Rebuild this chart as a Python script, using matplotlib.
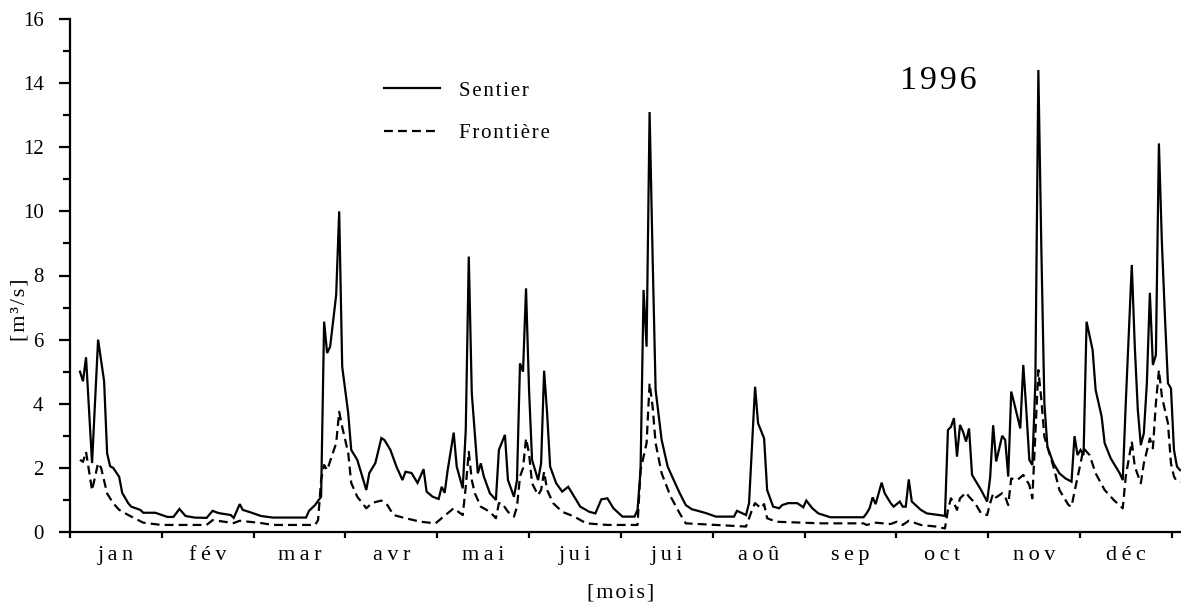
import numpy as np
import matplotlib
matplotlib.use("Agg")
import matplotlib.pyplot as plt
from matplotlib.ticker import FixedLocator, NullFormatter

plt.rcParams['font.family'] = ['Liberation Serif', 'DejaVu Serif']

# Daily discharge 1996 (day of year -> m3/s), turning points of each hydrograph
sentier_days = [1, 2, 3, 5, 7, 9, 10, 11, 12, 14, 15, 17, 18, 21, 22, 26, 30, 32, 34, 36,
                39, 43, 45, 47, 51, 52, 54, 55, 58, 61, 65, 76, 77, 79, 81, 82, 83, 84, 86, 87,
                88, 90, 91, 93, 96, 97, 99, 101, 102, 104, 106, 108, 109, 111, 113, 115, 116, 118, 120, 121,
                122, 123, 125, 126, 128, 129, 130, 131, 133, 134, 135, 137, 139, 140, 142, 143, 145, 146, 147, 148,
                149, 150, 151, 153, 154, 155, 156, 157, 159, 161, 163, 165, 167, 170, 172, 174, 176, 178, 181, 185,
                186, 187, 188, 189, 190, 191, 192, 194, 196, 198, 200, 202, 204, 206, 209, 212, 218, 219, 222, 223,
                225, 226, 228, 229, 231, 233, 234, 236, 239, 241, 242, 244, 246, 250, 261, 262, 263, 264, 265, 267,
                268, 270, 271, 273, 274, 275, 276, 277, 280, 282, 286, 288, 289, 290, 291, 292, 293, 294, 295, 296,
                297, 300, 302, 303, 304, 305, 307, 308, 309, 310, 311, 313, 314, 315, 316, 317, 318, 319, 320, 321,
                322, 324, 326, 328, 330, 331, 332, 333, 334, 335, 337, 338, 340, 341, 343, 346, 347, 348, 350, 351,
                352, 353, 354, 355, 356, 357, 358, 359, 360, 361, 362, 363, 364, 365, 366]
sentier_q = [5.0, 4.7, 5.45, 2.15, 6.0, 4.7, 2.45, 2.05, 2.0, 1.72, 1.22, 0.9, 0.79, 0.69, 0.6, 0.6, 0.47, 0.47, 0.72, 0.5,
             0.45, 0.44, 0.66, 0.59, 0.53, 0.44, 0.87, 0.69, 0.6, 0.5, 0.45, 0.45, 0.66, 0.84, 1.1, 6.56, 5.58, 5.78, 7.39, 10.0,
             5.16, 3.7, 2.56, 2.25, 1.31, 1.84, 2.15, 2.93, 2.87, 2.56, 2.04, 1.62, 1.88, 1.84, 1.53, 1.96, 1.26, 1.1, 1.03, 1.41,
             1.22, 1.93, 3.1, 2.04, 1.36, 3.18, 8.59, 4.33, 1.83, 2.14, 1.73, 1.21, 1.0, 2.56, 3.03, 1.62, 1.1, 1.62, 5.26, 5.0,
             7.6, 4.43, 2.25, 1.62, 2.14, 5.03, 3.7, 2.04, 1.52, 1.26, 1.41, 1.1, 0.79, 0.63, 0.58, 1.02, 1.05, 0.74, 0.48, 0.48,
             0.69, 1.93, 7.55, 5.78, 13.1, 8.59, 4.43, 2.87, 2.04, 1.62, 1.21, 0.84, 0.71, 0.66, 0.58, 0.48, 0.48, 0.66, 0.53, 0.9,
             4.53, 3.39, 2.92, 1.31, 0.79, 0.74, 0.84, 0.9, 0.9, 0.77, 0.98, 0.74, 0.58, 0.46, 0.46, 0.58, 0.74, 1.08, 0.87, 1.54,
             1.21, 0.9, 0.79, 0.95, 0.79, 0.79, 1.64, 0.95, 0.69, 0.58, 0.53, 0.5, 3.18, 3.28, 3.55, 2.35, 3.34, 3.13, 2.82, 3.23,
             1.78, 1.31, 0.95, 1.7, 3.33, 2.2, 3.0, 2.87, 1.73, 4.38, 4.01, 3.23, 5.21, 3.81, 2.25, 2.09, 4.64, 14.41, 8.8, 4.01,
             2.66, 2.14, 1.83, 1.67, 1.57, 2.99, 2.4, 2.56, 2.4, 6.56, 5.68, 4.43, 3.6, 2.77, 2.3, 1.83, 1.62, 4.01, 8.33, 5.78,
             3.81, 2.71, 3.08, 4.64, 7.46, 5.21, 5.52, 12.12, 9.0, 6.72, 4.64, 4.48, 2.56, 2.04, 1.93]

frontiere_days = [1, 2, 3, 5, 7, 8, 10, 12, 14, 17, 22, 28, 43, 45, 52, 54, 61, 65, 79, 80,
                  81, 82, 83, 86, 87, 88, 90, 91, 93, 96, 98, 101, 103, 105, 109, 114, 119, 121, 125, 128,
                  129, 130, 131, 132, 134, 137, 139, 140, 141, 143, 145, 146, 147, 148, 149, 150, 151, 153, 154, 155,
                  156, 158, 161, 165, 169, 176, 186, 187, 189, 190, 191, 192, 194, 197, 200, 202, 222, 224, 225, 227,
                  228, 229, 232, 247, 261, 262, 265, 270, 272, 274, 276, 280, 285, 288, 289, 290, 291, 292, 293, 295,
                  296, 298, 300, 302, 303, 304, 305, 307, 308, 309, 310, 312, 314, 316, 317, 318, 319, 320, 321, 324,
                  326, 329, 330, 331, 333, 334, 336, 338, 341, 344, 347, 348, 350, 351, 353, 354, 356, 357, 358, 359,
                  360, 362, 363, 364, 365, 366]
frontiere_q = [2.25, 2.19, 2.5, 1.3, 2.15, 2.0, 1.2, 0.9, 0.69, 0.53, 0.29, 0.22, 0.22, 0.37, 0.28, 0.35, 0.28, 0.22, 0.22, 0.37,
               1.62, 2.09, 1.93, 2.77, 3.75, 3.28, 2.46, 1.53, 1.1, 0.74, 0.91, 0.98, 0.84, 0.53, 0.43, 0.32, 0.27, 0.43, 0.74, 0.53,
               1.41, 2.5, 1.62, 1.21, 0.79, 0.63, 0.43, 0.9, 0.9, 0.63, 0.48, 0.79, 1.73, 1.99, 2.92, 2.45, 1.52, 1.15, 1.31, 1.88,
               1.31, 0.9, 0.63, 0.48, 0.27, 0.22, 0.22, 1.93, 2.77, 4.64, 3.91, 2.77, 1.83, 1.1, 0.58, 0.27, 0.17, 0.69, 0.9, 0.74,
               0.87, 0.43, 0.32, 0.27, 0.27, 0.22, 0.29, 0.25, 0.32, 0.22, 0.35, 0.22, 0.17, 0.11, 0.69, 1.05, 0.9, 0.69, 1.05, 1.23,
               1.1, 0.9, 0.58, 0.53, 0.9, 1.2, 1.08, 1.21, 1.1, 0.84, 1.67, 1.62, 1.78, 1.47, 1.05, 3.08, 5.05, 4.12, 2.97, 2.04,
               1.31, 0.84, 0.79, 1.26, 2.14, 2.61, 2.4, 1.83, 1.31, 1.0, 0.74, 1.73, 2.82, 2.04, 1.52, 2.14, 2.92, 2.61, 4.01, 5.05,
               4.22, 3.39, 2.14, 1.73, 1.57, 1.55]

month_labels = ['jan', 'fév', 'mar', 'avr', 'mai', 'jui', 'jui', 'aoû', 'sep', 'oct', 'nov', 'déc']
y_ticks = [0, 2, 4, 6, 8, 10, 12, 14, 16]


def spaced(text, sep='\u2009'):
    """Typeset a label with a little tracking between its letters."""
    return sep.join(text)


W, H = 1181, 612
fig = plt.figure(figsize=(W / 100, H / 100), dpi=100)
ax = fig.add_axes([70 / W, 1 - 532 / H, 1110 / W, 513 / H])

ax.plot(sentier_days, sentier_q, color='black', lw=1.6, solid_joinstyle='miter',
        label=spaced('Sentier', '\u200a'), clip_on=False)
ax.plot(frontiere_days, frontiere_q, color='black', lw=1.6, linestyle=(0, (4.0, 2.3)),
        label=spaced('Frontière', '\u200a'), clip_on=False)

# axis frame: only left and bottom
for s in ['top', 'right']:
    ax.spines[s].set_visible(False)
for s in ['left', 'bottom']:
    ax.spines[s].set_linewidth(1.6)

x0 = -2.32
month_len = 30.47
ax.set_xlim(x0, 366)
ax.set_ylim(0, 16)

bounds = x0 + month_len * np.arange(13)
mids = x0 + month_len * (np.arange(12) + 0.5)
ax.xaxis.set_major_locator(FixedLocator(bounds))
ax.xaxis.set_major_formatter(NullFormatter())
ax.xaxis.set_minor_locator(FixedLocator(mids))
ax.set_xticklabels([spaced(m) for m in month_labels], minor=True)
ax.tick_params(axis='x', which='major', direction='out', length=4.5, width=1.6)
ax.tick_params(axis='x', which='minor', length=0, pad=10, labelsize=16)

ax.set_yticks(y_ticks)
ax.yaxis.set_minor_locator(FixedLocator(np.arange(1, 16, 2)))
ax.tick_params(axis='y', which='major', direction='out', length=8, width=1.6, labelsize=15, pad=11)
ax.tick_params(axis='y', which='minor', direction='out', length=5, width=1.6)

fig.text(621 / W, 1 - 593 / H, spaced('[mois]', '\u200a'), ha='center', va='center', fontsize=16)
fig.text(20 / W, 1 - 310 / H, spaced('[m³/s]', '\u200a'), ha='center', va='center', rotation=90, fontsize=16)
fig.text(938 / W, 1 - 81 / H, spaced('1996', '\u200a'), ha='center', va='center', fontsize=24.5)

ax.legend(loc='upper left', bbox_to_anchor=(384 / W, 1 - 81 / H), bbox_transform=fig.transFigure,
          frameon=False, fontsize=15, handlelength=2.7, handletextpad=0.9,
          labelspacing=1.1, borderpad=0, borderaxespad=0)

fig.savefig('out.png', dpi=100)
